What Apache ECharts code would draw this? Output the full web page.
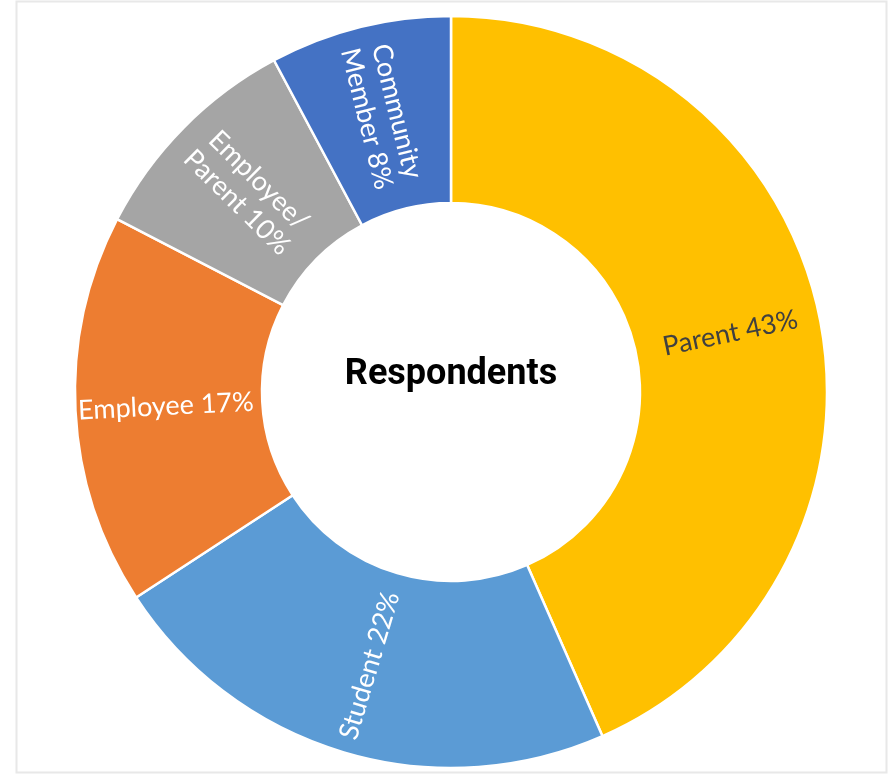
<!DOCTYPE html>
<html>
<head>
<meta charset="utf-8">
<script src="https://cdn.jsdelivr.net/npm/echarts@6/dist/echarts.min.js"></script>
<style>
html,body{margin:0;padding:0;background:#fff;}
#chart{width:891px;height:778px;}
</style>
</head>
<body>
<div id="chart"></div>
<script>
const categories = ['Parent', 'Student', 'Employee', 'Employee/\nParent', 'Community\nMember'];
const values = [43.4, 22.4, 16.8, 9.6, 7.8];
const labelPercents = [43, 22, 17, 10, 8];
const colors = ['#FFC000', '#5B9BD5', '#ED7D31', '#A5A5A5', '#4472C4'];
const labelColors = ['#404040', '#ffffff', '#ffffff', '#ffffff', '#ffffff'];
const centerTitle = 'Respondents';

const chart = echarts.init(document.getElementById('chart'), null, {renderer: 'canvas'});
const data = categories.map((c, i) => ({
  name: c,
  value: values[i],
  pct: labelPercents[i],
  itemStyle: {color: colors[i]},
  label: {color: labelColors[i]}
}));

chart.setOption({
  animation: false,
  backgroundColor: '#ffffff',
  graphic: [
    {type: 'rect', shape: {x: 16.5, y: 1.5, width: 870, height: 771},
     style: {fill: 'none', stroke: '#e8e8e8', lineWidth: 2}, silent: true, z: 100},
    {type: 'text', x: 451, y: 375, z: 100,
     style: {text: centerTitle, font: 'bold 36px Roboto', fill: '#000', align: 'center', verticalAlign: 'middle'},
     silent: true}
  ],
  series: [{
    type: 'pie',
    center: [451, 392],
    radius: [189, 376],
    startAngle: 90,
    clockwise: true,
    data: data,
    itemStyle: {borderColor: '#ffffff', borderWidth: 2.5},
    label: {
      show: true,
      position: 'inside',
      rotate: 'radial',
      fontFamily: 'Lato',
      fontSize: 27,
      lineHeight: 31,
      align: 'center',
      formatter: p => p.name + ' ' + labelPercents[p.dataIndex] + '%'
    },
    labelLine: {show: false},
    emphasis: {disabled: true}
  }]
});
</script>
</body>
</html>
